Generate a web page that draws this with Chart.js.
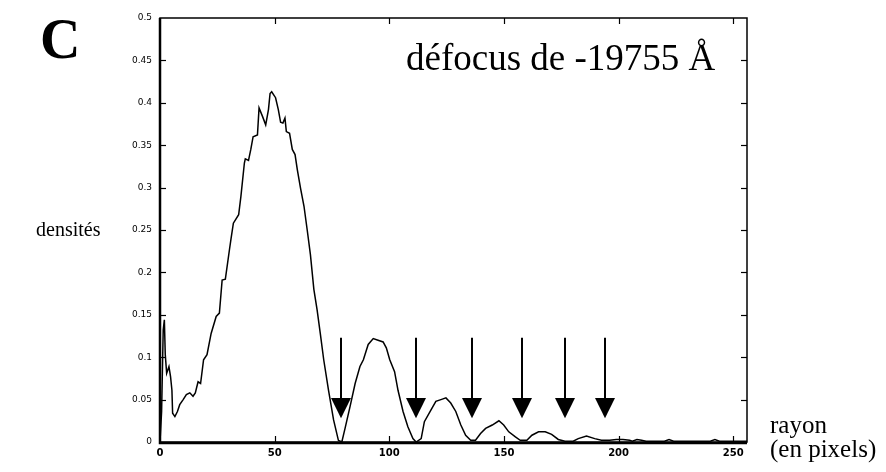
<!DOCTYPE html>
<html>
<head>
<meta charset="utf-8">
<script src="https://cdn.jsdelivr.net/npm/chart.js@4"></script>
<style>
html,body{margin:0;padding:0;background:#fff;}
#wrap{width:886px;height:472px;position:relative;}
</style>
</head>
<body>
<div id="wrap"><canvas id="c" width="886" height="472"></canvas></div>
<script>
// ---- data ----
const radius = [0, 0.7, 1.4, 1.9, 2.3, 2.9, 3.4, 3.9, 4.6, 5.2, 5.5, 6.5, 7.6, 8.6, 10.1, 11.5, 13, 14.4, 15.4, 16.6, 17.7, 19, 20.5, 22.3, 24.5, 25.9, 27.1, 28.5, 30.3, 31, 32, 32.9, 34.3, 35.3, 36.8, 37.2, 38.6, 39.6, 40.6, 42.5, 43.2, 44.7, 46.1, 47.3, 48, 48.7, 50.4, 51.6, 52.6, 53.6, 54.5, 55.1, 56.5, 57.7, 58.9, 59.9, 61.3, 62.8, 64.2, 65.6, 67.1, 68.5, 69.9, 71.4, 73.5, 75.7, 77.8, 79.3, 80.7, 82.9, 85.1, 87.2, 88.7, 90.8, 93, 95.1, 97.3, 98.7, 100.2, 102.3, 103.8, 106, 108.1, 110.3, 111.7, 113.9, 115.3, 118.2, 120.3, 122.5, 124.7, 126.8, 129, 131.2, 133.3, 135.5, 137.6, 139.8, 142, 144.9, 147.8, 149.9, 152.1, 155, 157.1, 160, 162.2, 165.1, 168, 170.8, 173.7, 176.6, 180.2, 182.4, 186, 189.6, 192.5, 196.1, 199, 201.9, 204.8, 206, 208, 210, 212, 215, 220, 222, 224, 230, 235, 240, 242, 244, 250, 256];
const density = [0, 0.036, 0.132, 0.144, 0.103, 0.081, 0.085, 0.089, 0.077, 0.061, 0.034, 0.030, 0.036, 0.044, 0.050, 0.056, 0.058, 0.054, 0.058, 0.071, 0.069, 0.097, 0.103, 0.128, 0.148, 0.152, 0.191, 0.192, 0.227, 0.240, 0.258, 0.262, 0.268, 0.290, 0.329, 0.334, 0.332, 0.345, 0.360, 0.362, 0.394, 0.384, 0.374, 0.392, 0.411, 0.413, 0.406, 0.392, 0.377, 0.376, 0.382, 0.366, 0.364, 0.345, 0.339, 0.321, 0.299, 0.278, 0.250, 0.221, 0.180, 0.156, 0.128, 0.097, 0.061, 0.026, 0.002, 0.000, 0.016, 0.042, 0.069, 0.089, 0.097, 0.115, 0.122, 0.120, 0.118, 0.111, 0.097, 0.083, 0.061, 0.036, 0.018, 0.004, 0.000, 0.004, 0.024, 0.038, 0.048, 0.050, 0.052, 0.046, 0.036, 0.020, 0.008, 0.002, 0.002, 0.010, 0.016, 0.020, 0.025, 0.020, 0.012, 0.006, 0.002, 0.002, 0.008, 0.012, 0.012, 0.009, 0.003, 0.001, 0.001, 0.004, 0.007, 0.004, 0.002, 0.002, 0.003, 0.003, 0.002, 0.001, 0.003, 0.002, 0.001, 0.001, 0.001, 0.003, 0.001, 0.001, 0.001, 0.001, 0.003, 0.001, 0.001, 0.001];
const arrowRadius = [79, 111.7, 136.2, 157.8, 176.6, 194.1];
const xTickValues = [0, 50, 100, 150, 200, 250];
const xTickLabels = ['0', '50', '100', '150', '200', '250'];
const yTickValues = [0, 0.05, 0.1, 0.15, 0.2, 0.25, 0.3, 0.35, 0.4, 0.45, 0.5];
const yTickLabels = ['0', '0.05', '0.1', '0.15', '0.2', '0.25', '0.3', '0.35', '0.4', '0.45', '0.5'];
const panelLetter = 'C';
const titleText = 'défocus de -19755 Å';
const yTitle = 'densités';
const xTitle = ['rayon', '(en pixels)'];

const points = radius.map((r, i) => ({x: r, y: density[i]}));

const decor = {
  id: 'decor',
  afterDatasetsDraw(chart) {
    const ctx = chart.ctx, xs = chart.scales.x, ys = chart.scales.y;
    ctx.save();
    ctx.fillStyle = '#000'; ctx.strokeStyle = '#000';
    const yTop = ys.getPixelForValue(0.123);
    const yBase = ys.getPixelForValue(0.052);
    const yTip = ys.getPixelForValue(0.028);
    arrowRadius.forEach(r => {
      const px = Math.round(xs.getPixelForValue(r));
      ctx.lineWidth = 2;
      ctx.beginPath(); ctx.moveTo(px, yTop); ctx.lineTo(px, yBase + 1); ctx.stroke();
      ctx.beginPath(); ctx.moveTo(px - 10, yBase); ctx.lineTo(px + 10, yBase); ctx.lineTo(px, yTip); ctx.closePath(); ctx.fill();
    });
    ctx.restore();
  },
  afterDraw(chart) {
    const ctx = chart.ctx, xs = chart.scales.x, ys = chart.scales.y, a = chart.chartArea;
    ctx.save();
    ctx.strokeStyle = '#000';
    // frame
    ctx.lineWidth = 1.5;
    ctx.strokeRect(a.left, a.top, a.right - a.left, a.bottom - a.top);
    ctx.lineWidth = 2.5;
    ctx.beginPath(); ctx.moveTo(a.left, a.top); ctx.lineTo(a.left, a.bottom + 1); ctx.lineTo(a.right, a.bottom + 1); ctx.stroke();
    // inward ticks
    ctx.lineWidth = 1.2;
    const tl = 6;
    xTickValues.forEach(v => {
      if (v === 0) return;
      const px = Math.round(xs.getPixelForValue(v)) + 0.5;
      ctx.beginPath(); ctx.moveTo(px, a.bottom); ctx.lineTo(px, a.bottom - tl); ctx.stroke();
      ctx.beginPath(); ctx.moveTo(px, a.top); ctx.lineTo(px, a.top + tl); ctx.stroke();
    });
    yTickValues.forEach(v => {
      if (v === 0 || v === 0.5) return;
      const py = Math.round(ys.getPixelForValue(v)) + 0.5;
      ctx.beginPath(); ctx.moveTo(a.left, py); ctx.lineTo(a.left + tl, py); ctx.stroke();
      ctx.beginPath(); ctx.moveTo(a.right, py); ctx.lineTo(a.right - tl, py); ctx.stroke();
    });
    // texts
    ctx.fillStyle = '#000';
    ctx.textBaseline = 'alphabetic';
    ctx.textAlign = 'left';
    ctx.font = 'bold 56px "Liberation Serif"';
    ctx.fillText(panelLetter, 40, 58);
    ctx.font = '37px "Liberation Serif"';
    ctx.fillText(titleText, 406, 70);
    ctx.font = '20px "Liberation Serif"';
    ctx.fillText(yTitle, 36, 236);
    ctx.font = '25px "Liberation Serif"';
    ctx.fillText(xTitle[0], 770, 433);
    ctx.fillText(xTitle[1], 770, 457);
    ctx.restore();
  }
};

new Chart(document.getElementById('c'), {
  type: 'line',
  data: {
    datasets: [{
      data: points,
      borderColor: '#000',
      borderWidth: 1.5,
      pointRadius: 0,
      tension: 0,
      fill: false
    }]
  },
  options: {
    responsive: false,
    animation: false,
    events: [],
    layout: {padding: {top: 18, right: 139, left: 0, bottom: 0}},
    plugins: {legend: {display: false}, tooltip: {enabled: false}, title: {display: false}},
    scales: {
      x: {
        type: 'linear', min: 0, max: 256,
        grid: {display: false, drawTicks: false},
        border: {display: false},
        afterBuildTicks: s => { s.ticks = xTickValues.map(v => ({value: v})); },
        afterFit: s => { s.height = 30; },
        ticks: {
          padding: 5, color: '#000', maxRotation: 0, autoSkip: false,
          font: {family: '"DejaVu Sans"', size: 10, weight: 'bold'},
          callback: v => xTickLabels[xTickValues.indexOf(v)]
        }
      },
      y: {
        type: 'linear', min: 0, max: 0.5,
        grid: {display: false, drawTicks: false},
        border: {display: false},
        afterBuildTicks: s => { s.ticks = yTickValues.map(v => ({value: v})); },
        afterFit: s => { s.width = 160; },
        ticks: {
          padding: 8, color: '#000', autoSkip: false,
          font: {family: '"DejaVu Sans"', size: 9},
          callback: (v) => { const i = yTickValues.findIndex(t => Math.abs(t - v) < 1e-9); return yTickLabels[i]; }
        }
      }
    }
  },
  plugins: [decor]
});
</script>
</body>
</html>
